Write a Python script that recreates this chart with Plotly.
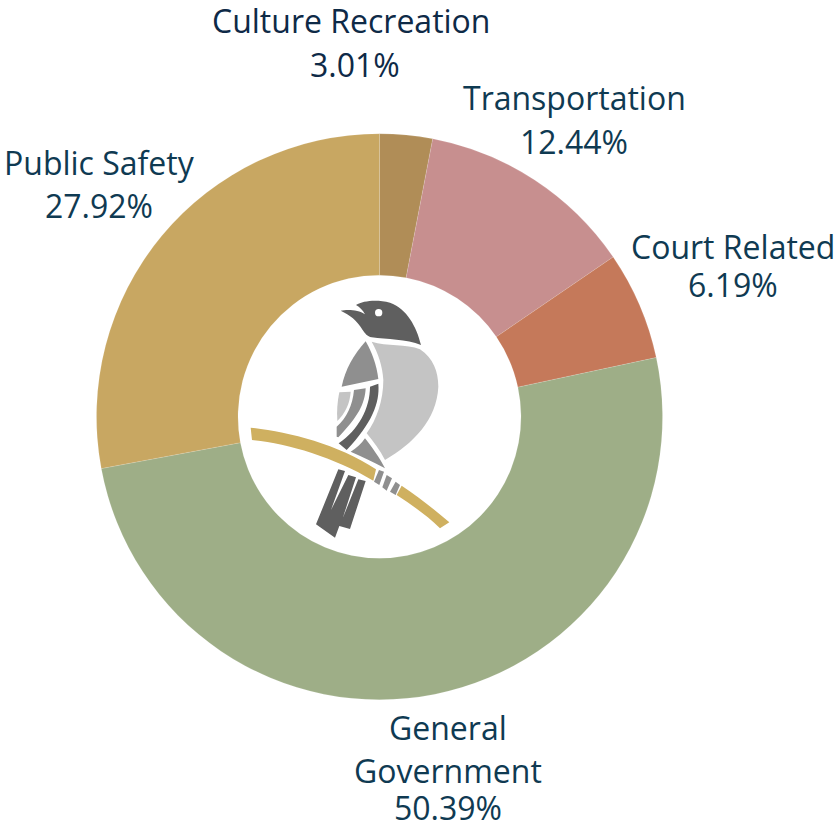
import re
import plotly.graph_objects as go

W, H = 836, 823

categories = ["Culture Recreation", "Transportation", "Court Related", "General Government", "Public Safety"]
shares = [3.01, 12.44, 6.19, 50.39, 27.92]
slice_colors = ["#b08d57", "#c78f8f", "#c5795a", "#9eae87", "#c8a762"]

# (text, centre x px, centre y px, colour)
DARK, BLUE = "#0e2a47", "#0f3a52"
label_lines = [
    ("Culture Recreation", 351, 20.5, DARK),
    ("3.01%", 355, 64.5, DARK),
    ("Transportation", 574, 97.5, BLUE),
    ("12.44%", 574, 141.5, BLUE),
    ("Court Related", 733, 247, BLUE),
    ("6.19%", 733, 284, BLUE),
    ("Public Safety", 99, 162.5, BLUE),
    ("27.92%", 99, 205.5, BLUE),
    ("General", 448, 727.5, BLUE),
    ("Government", 448, 770.5, BLUE),
    ("50.39%", 448, 807, BLUE),
]

GD, GM, GL, GOLD = "#5f5f5f", "#8f8f8f", "#c4c4c4", "#cfb060"
# Logo paths, traced in 3x crop coordinates with origin at (230, 280)
logo = [
    (GOLD, "M62 443 C170 455 320 490 438 568 L430 602 C310 530 170 490 66 480 Z"),
    (GOLD, "M515 617 C565 650 615 690 658 727 L630 745 C590 705 545 675 500 645 Z"),
    (GM, "M447 570 L462 575 L448 615 L432 605 Z"),
    (GM, "M470 585 L486 595 L470 632 L457 622 Z"),
    (GM, "M497 605 L510 615 L497 645 L480 635 Z"),
    (GD, "M325 568 L345 573 L303 690 L355 585 L378 592 L338 715 L385 598 L407 603 L360 747 L328 738 L315 773 L258 733 Z"),
    (GD, "M332 92 C350 88 385 88 405 103 C398 90 390 82 378 75 C400 62 440 58 480 68 C530 85 560 140 573 195 C530 178 470 178 425 172 C412 170 405 160 398 150 C380 120 360 105 332 92 Z"),
    (GM, "M407 184 C425 215 440 255 445 297 L335 320 C345 270 370 225 407 184 Z"),
    (GL, "M425 185 C470 200 530 190 570 208 C610 235 625 275 625 320 C620 420 550 490 465 540 C450 510 430 485 410 460 C440 420 460 360 460 300 C458 260 445 220 425 185 Z"),
    (GL, "M328 337 L362 335 C360 370 345 400 322 423 C320 395 322 365 328 337 Z"),
    (GM, "M372 330 L407 325 C405 370 385 410 325 472 L320 470 L320 440 C350 415 368 375 372 330 Z"),
    (GD, "M445 311 C450 370 425 430 350 510 L326 490 C385 450 420 385 420 320 Z"),
    (GM, "M405 475 C425 500 450 535 465 565 C430 545 395 530 362 515 C380 505 395 490 405 475 Z"),
]
eye = (446, 98, 11)


def to_paper(px, py):
    return f"{(230 + px / 3) / W:.5f} {1 - (280 + py / 3) / H:.5f}"


def convert(path):
    def repl(m):
        return to_paper(float(m.group(1)), float(m.group(2)))
    return re.sub(r"(-?[\d.]+) (-?[\d.]+)", repl, path)


fig = go.Figure(go.Pie(
    labels=categories,
    values=shares,
    sort=False,
    direction="clockwise",
    rotation=0,
    hole=0.5,
    textinfo="none",
    showlegend=False,
    marker=dict(colors=slice_colors, line=dict(color="rgba(255,255,255,0.25)", width=0.5)),
    domain=dict(x=[96.5 / W, 662.5 / W], y=[1 - 699.7 / H, 1 - 133.7 / H]),
))

shapes = [dict(type="path", xref="paper", yref="paper", path=convert(p),
               fillcolor=c, line=dict(width=0), layer="above") for c, p in logo]
ex, ey, er = eye
shapes.append(dict(type="circle", xref="paper", yref="paper",
                   x0=(230 + (ex - er) / 3) / W, x1=(230 + (ex + er) / 3) / W,
                   y0=1 - (280 + (ey + er) / 3) / H, y1=1 - (280 + (ey - er) / 3) / H,
                   fillcolor="white", line=dict(width=0), layer="above"))

annotations = [dict(text=t, x=x / W, y=1 - y / H, xref="paper", yref="paper",
                    xanchor="center", yanchor="middle", showarrow=False,
                    font=dict(family="Open Sans", size=32, color=c))
               for t, x, y, c in label_lines]

fig.update_layout(width=W, height=H, margin=dict(l=0, r=0, t=0, b=0),
                  paper_bgcolor="white", plot_bgcolor="white",
                  shapes=shapes, annotations=annotations)
fig.write_html("out.html", config={"displayModeBar": False},
               post_script="document.body.style.margin='0';document.documentElement.style.overflow='hidden';")
